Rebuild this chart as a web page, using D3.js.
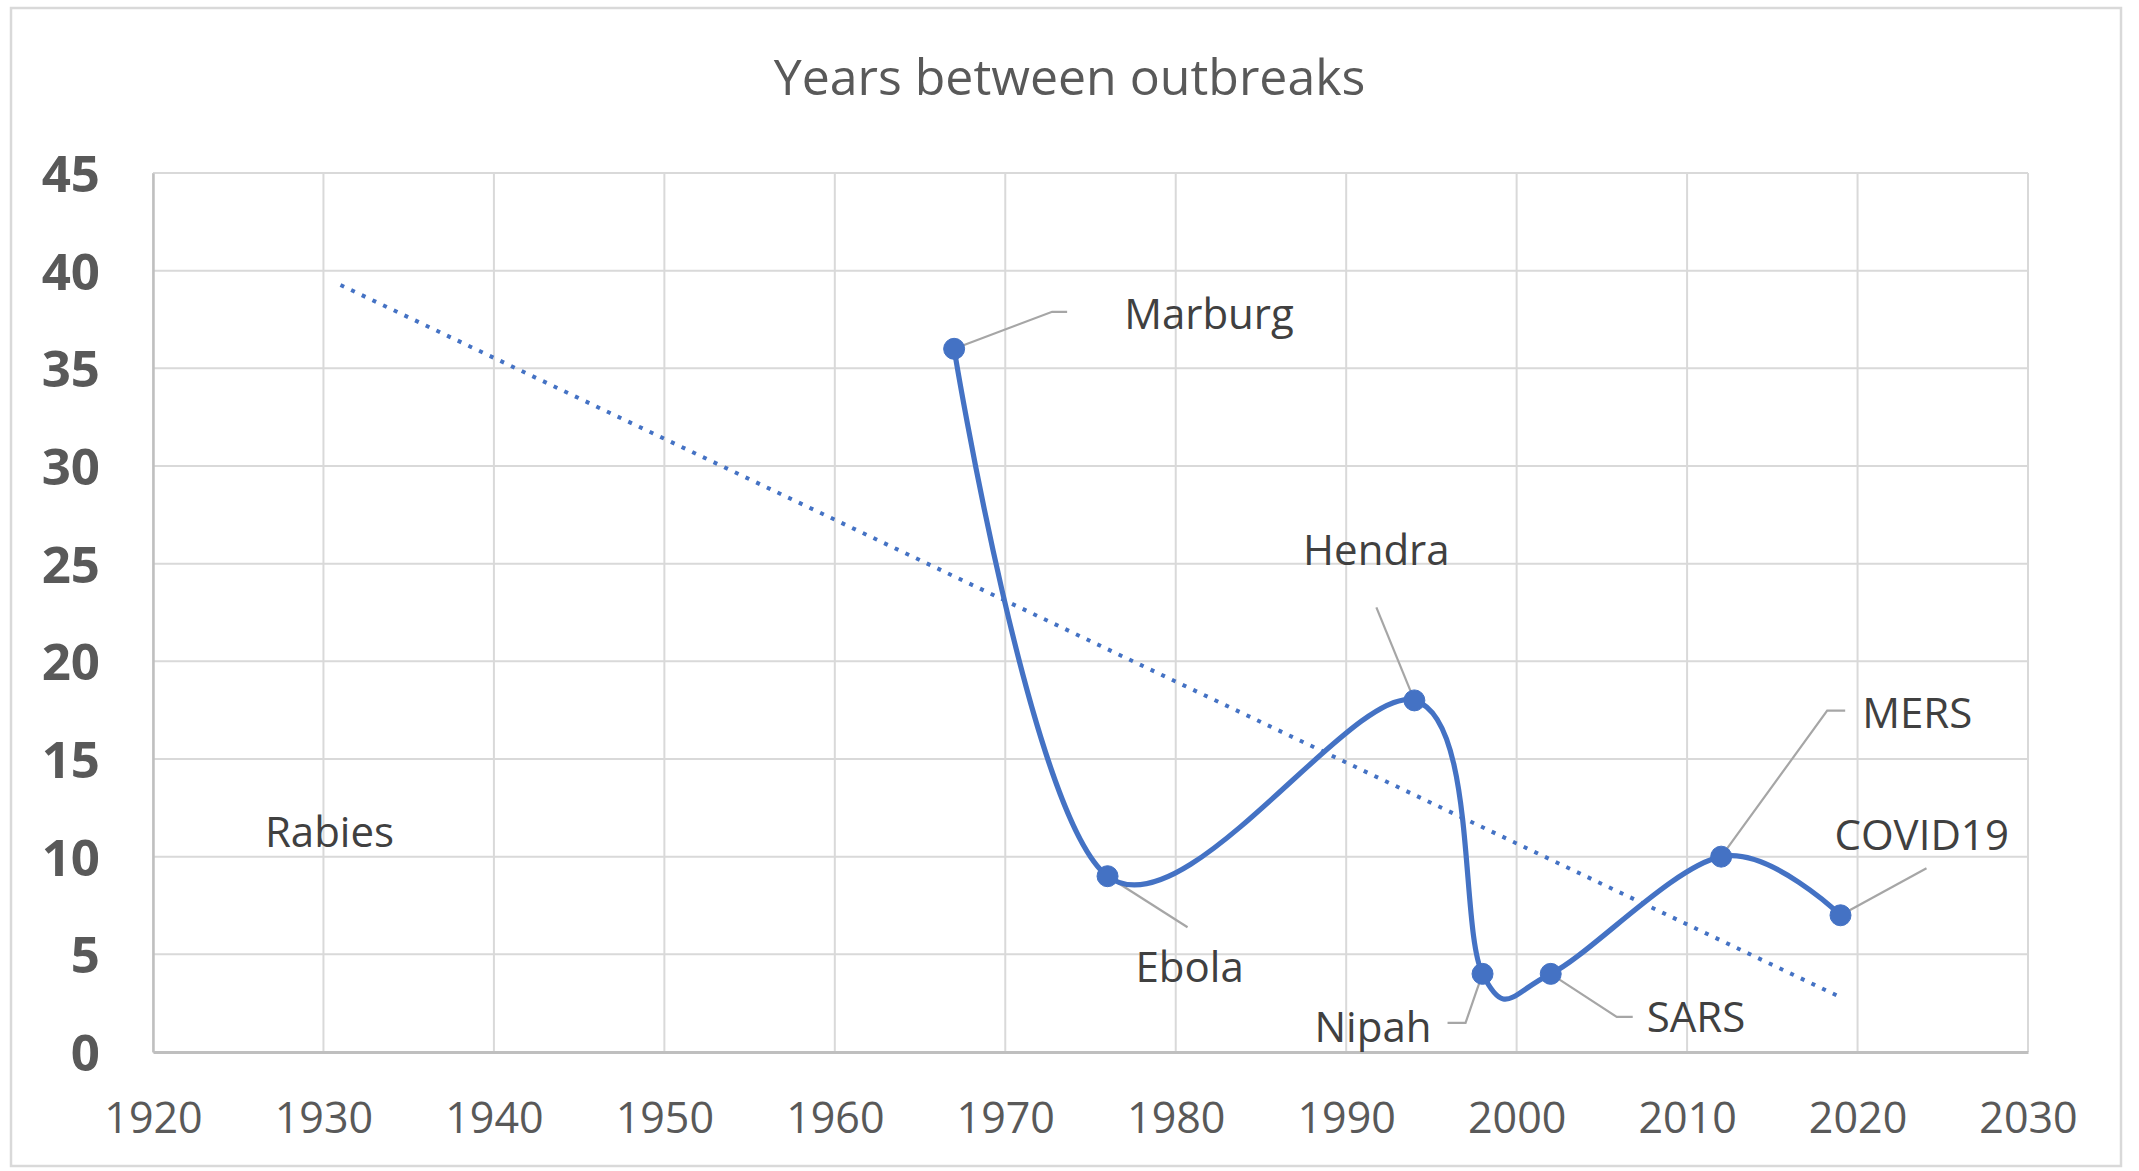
<!DOCTYPE html>
<html>
<head>
<meta charset="utf-8">
<script src="https://cdn.jsdelivr.net/npm/d3@7"></script>
<style>
  html, body { margin: 0; padding: 0; background: #fff; }
  svg { display: block; }
  text { font-family: "Open Sans", "Noto Sans", sans-serif; }
</style>
</head>
<body>
<svg id="chart" width="2139" height="1171"></svg>
<script>
// ---- data ----
const chartTitle = "Years between outbreaks";
const outbreaks = ["Rabies", "Marburg", "Ebola", "Hendra", "Nipah", "SARS", "MERS", "COVID19"];
const outbreakYears = [1931, 1967, 1976, 1994, 1998, 2002, 2012, 2019];
const yearsBetween = [null, 36, 9, 18, 4, 4, 10, 7];
const xTickValues = [1920, 1930, 1940, 1950, 1960, 1970, 1980, 1990, 2000, 2010, 2020, 2030];
const yTickValues = [0, 5, 10, 15, 20, 25, 30, 35, 40, 45];

// ---- label layout (pixel offsets from each point) ----
const labelLayout = {
  Rabies:  { dx: -11, dy: 0, anchor: "middle", leader: null, fixedY: 846.7 },
  Marburg: { dx: 170, dy: -20, anchor: "start", leader: [[0,0],[98,-37],[113,-37]] },
  Ebola:   { dx: 28,  dy: 106, anchor: "start", leader: [[0,0],[80,51]] },
  Hendra:  { dx: -38, dy: -135, anchor: "middle", leader: [[0,0],[-38,-93]] },
  Nipah:   { dx: -51, dy: 68, anchor: "end", leader: [[0,0],[-6,17],[-17,49],[-35,49]] },
  SARS:    { dx: 96,  dy: 58, anchor: "start", leader: [[0,0],[66,43],[82,43]] },
  MERS:    { dx: 141, dy: -129, anchor: "start", leader: [[0,0],[106,-146],[124,-146]] },
  COVID19: { dx: -6,  dy: -65, anchor: "start", leader: [[0,0],[86,-47]] }
};

(function () {
const svg = d3.select("#chart");
const plotL = 153, plotR = 2028, plotT = 173, plotB = 1052;
const blue = "#4472C4";

// outer border
svg.append("rect").attr("x", 11).attr("y", 8).attr("width", 2110).attr("height", 1158)
  .attr("fill", "#fff").attr("stroke", "#D9D9D9").attr("stroke-width", 2.5);

const x = d3.scaleLinear().domain([1920, 2030]).range([plotL, plotR]);
const y = d3.scaleLinear().domain([0, 45]).range([plotB, plotT]);

// gridlines
const grid = svg.append("g");
grid.selectAll("line.v").data(xTickValues).join("line").attr("class", "v")
  .attr("x1", d => x(d)).attr("x2", d => x(d)).attr("y1", plotT).attr("y2", plotB)
  .attr("stroke", "#D9D9D9").attr("stroke-width", 2);
grid.selectAll("line.h").data(yTickValues).join("line").attr("class", "h")
  .attr("x1", plotL).attr("x2", plotR).attr("y1", d => y(d)).attr("y2", d => y(d))
  .attr("stroke", "#D9D9D9").attr("stroke-width", 2);

// axes
const xAxis = d3.axisBottom(x).tickValues(xTickValues).tickFormat(d3.format("d")).tickSize(0).tickPadding(0);
const gx = svg.append("g").attr("transform", `translate(0,${plotB})`).call(xAxis);
gx.select(".domain").attr("stroke", "#BFBFBF").attr("stroke-width", 3);
gx.selectAll("text").attr("font-size", 43).attr("fill", "#595959")
  .attr("y", 81).attr("dy", 0).style("font-family", '"Open Sans", sans-serif');

const yAxis = d3.axisLeft(y).tickValues(yTickValues).tickSize(0).tickPadding(0);
const gy = svg.append("g").attr("transform", `translate(${plotL},0)`).call(yAxis);
gy.select(".domain").attr("stroke", "#BFBFBF").attr("stroke-width", 2.5);
gy.selectAll("text").attr("font-size", 51).attr("font-weight", "bold").attr("fill", "#595959")
  .attr("x", -53).attr("dy", "0.36em").style("font-family", '"Open Sans", sans-serif');

// trendline (least squares on plotted points), spanning the full year range
const pts = outbreakYears.map((yr, i) => ({ name: outbreaks[i], year: yr, v: yearsBetween[i] }));
const valid = pts.filter(p => p.v !== null);
const mx = d3.mean(valid, p => p.year), my = d3.mean(valid, p => p.v);
const slope = d3.sum(valid, p => (p.year - mx) * (p.v - my)) / d3.sum(valid, p => (p.year - mx) ** 2);
const icpt = my - slope * mx;
const [yr0, yr1] = d3.extent(outbreakYears);
svg.append("line")
  .attr("x1", x(yr0)).attr("y1", y(icpt + slope * yr0))
  .attr("x2", x(yr1)).attr("y2", y(icpt + slope * yr1))
  .attr("stroke", blue).attr("stroke-width", 4).attr("stroke-dasharray", "4 7.8");

// leader lines
const leaderLine = d3.line();
valid.forEach(p => {
  const L = labelLayout[p.name];
  if (!L.leader) return;
  const px = x(p.year), py = y(p.v);
  svg.append("path").attr("d", leaderLine(L.leader.map(([a, b]) => [px + a, py + b])))
    .attr("fill", "none").attr("stroke", "#A6A6A6").attr("stroke-width", 2.2);
});

// smoothed series line
const line = d3.line().x(p => x(p.year)).y(p => y(p.v)).curve(d3.curveCardinal.tension(0));
svg.append("path").datum(valid).attr("d", line)
  .attr("fill", "none").attr("stroke", blue).attr("stroke-width", 5.2);

// markers
svg.selectAll("circle.pt").data(valid).join("circle").attr("class", "pt")
  .attr("cx", p => x(p.year)).attr("cy", p => y(p.v)).attr("r", 10.5)
  .attr("fill", blue).attr("stroke", blue).attr("stroke-width", 1);

// data labels
pts.forEach(p => {
  const L = labelLayout[p.name];
  const px = x(p.year);
  const py = p.v === null ? L.fixedY : y(p.v) + L.dy;
  svg.append("text").attr("x", px + L.dx).attr("y", py)
    .attr("text-anchor", L.anchor).attr("font-size", 42).attr("fill", "#404040")
    .text(p.name);
});

// title
svg.append("text").attr("x", 1069.5).attr("y", 95).attr("text-anchor", "middle")
  .attr("font-size", 50).attr("fill", "#595959").text(chartTitle);
})();
</script>
</body>
</html>
